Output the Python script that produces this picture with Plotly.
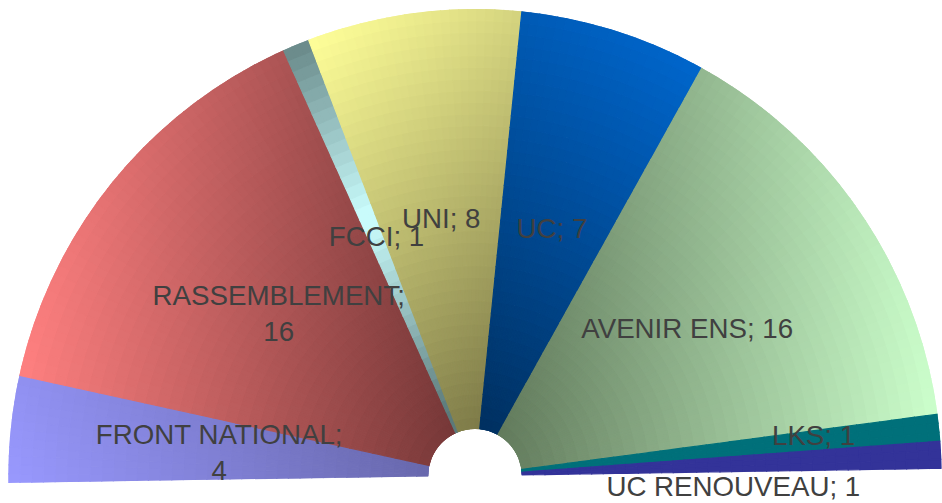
import numpy as np
import plotly.graph_objects as go

# seats per group (half-circle parliament chart)
parties = ["FRONT NATIONAL", "RASSEMBLEMENT", "FCCI", "UNI", "UC",
           "AVENIR ENS", "LKS", "UC RENOUVEAU"]
seats = [4, 16, 1, 8, 7, 16, 1, 1]
wrapped = ["FRONT NATIONAL", "RASSEMBLEMENT"]

# gradient end colours (light end, dark end)
light_colors = [(153, 153, 255), (255, 128, 128), (204, 255, 255), (255, 255, 153),
                (0, 102, 204), (204, 255, 204), (0, 112, 122), (51, 51, 153)]
dark_colors = [(104, 104, 172), (118, 56, 56), (92, 122, 122), (125, 122, 72),
               (0, 48, 96), (98, 122, 92), (0, 112, 122), (51, 51, 153)]
# direction in which the light end lies; None = light band across the middle
grad_dirs = [(-1, -0.6), (-1, 0), None, (-1, 1), (1, 1), (1, 0), (1, 0), (1, 0)]

# label placement tweaks (radial axis units / degrees)
label_r = [0.5, 0.491, 0.5, 0.5, 0.5, 0.5, 0.70, 0.504]
label_dtheta = [-1.1, 0, 0, 0, 0, 0, -0.5, 2.4]
label_pos = ["middle center"] * 7 + ["bottom center"]

tilt = 0.9      # chart is rotated slightly
hole = 0.1
n_r = 36        # radial steps used to fake the gradient
per_seat = 3    # angular steps per seat

deg = 180 / sum(seats)
cum = np.concatenate([[0], np.cumsum(seats)])


def rgb(c):
    return "rgb(%d,%d,%d)" % tuple(int(round(v)) for v in c)


fig = go.Figure()
mids = []
for i, name in enumerate(parties):
    t0, t1 = cum[i] * deg, cum[i + 1] * deg
    mids.append((t0 + t1) / 2)
    na = seats[i] * per_seat
    th_edges = np.linspace(t0, t1, na + 1)
    r_edges = np.linspace(0, 1, n_r + 1)
    th_c = (th_edges[:-1] + th_edges[1:]) / 2
    r_c = (r_edges[:-1] + r_edges[1:]) / 2
    TH, RR = np.meshgrid(th_c, r_c)
    BASE = np.meshgrid(th_c, r_edges[:-1])[1]

    phi = np.radians(180 + tilt - TH)
    rho = hole + (1 - hole) * RR
    X, Y = rho * np.cos(phi), rho * np.sin(phi)

    light = np.array(light_colors[i], dtype=float)
    dark = np.array(dark_colors[i], dtype=float)
    if grad_dirs[i] is None:
        t = np.clip(1 - np.abs(rho - 0.6) / 0.45, 0, 1)
    else:
        dx, dy = grad_dirs[i]
        bt = np.radians(180 + tilt - np.linspace(t0, t1, 60))
        bx = np.concatenate([np.cos(bt), hole * np.cos(bt)])
        by = np.concatenate([np.sin(bt), hole * np.sin(bt)])
        bp = bx * dx + by * dy
        t = (X * dx + Y * dy - bp.min()) / (bp.max() - bp.min())
    cols = [rgb(dark + tv * (light - dark)) for tv in t.ravel()]

    fig.add_trace(go.Barpolar(
        r=np.full(TH.size, 1 / n_r),
        base=BASE.ravel(),
        theta=TH.ravel(),
        width=(t1 - t0) / na,
        marker=dict(color=cols, line=dict(color=cols, width=1.2)),
        hoverinfo="skip",
        showlegend=False,
        name=name,
    ))

labels = []
for name, s in zip(parties, seats):
    sep = ";<br>" if name in wrapped else "; "
    labels.append(f"{name}{sep}{s}")

fig.add_trace(go.Scatterpolar(
    r=label_r,
    theta=[m + d for m, d in zip(mids, label_dtheta)],
    text=labels,
    mode="text",
    textposition=label_pos,
    textfont=dict(family="Liberation Sans, Arial, sans-serif", size=27.7, color="#404040"),
    cliponaxis=False,
    hoverinfo="skip",
    showlegend=False,
))

fig.update_layout(
    width=942, height=503,
    margin=dict(l=8, r=0, t=9, b=20),
    paper_bgcolor="white",
    showlegend=False,
    polar=dict(
        bgcolor="white",
        hole=hole,
        bargap=0,
        # lower bound below 0 leaves room for the bottom label, same bbox
        sector=[-tilt, 180 + tilt],
        radialaxis=dict(range=[0, 1], visible=False),
        angularaxis=dict(direction="clockwise", rotation=180 + tilt, visible=False),
    ),
)

# drop the default page margin so the figure fills the window
fig.write_html("out.html", config={"displayModeBar": False},
               post_script="document.body.style.margin = '0px';")
